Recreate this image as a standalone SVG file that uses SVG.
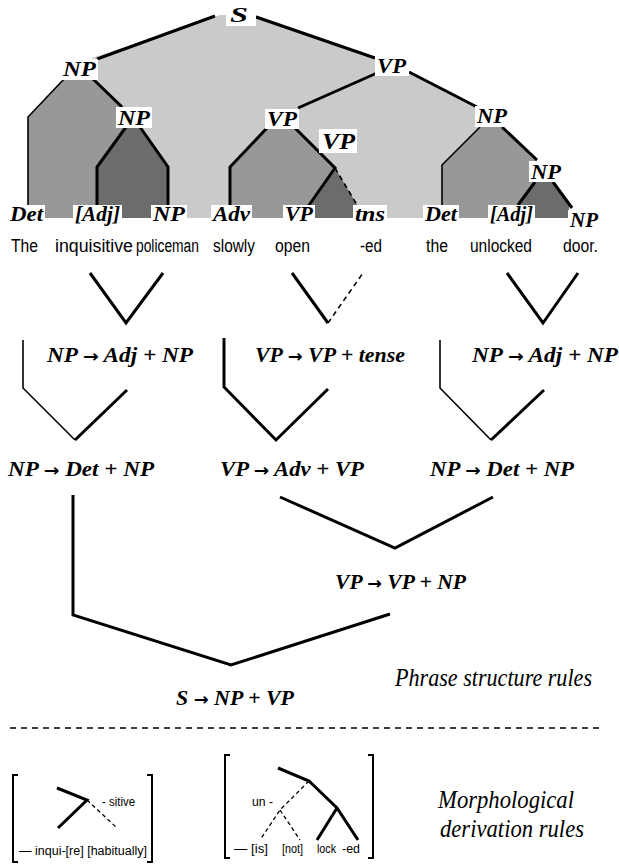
<svg xmlns="http://www.w3.org/2000/svg" width="619" height="868" viewBox="0 0 619 868">
<style>
.l1{fill:#cacaca}
.l2{fill:#989898}
.l3{fill:#6c6c6c}
.ln{fill:none;stroke:#000;stroke-width:3;stroke-linejoin:miter}
.tn{fill:none;stroke:#000;stroke-width:1.6}
.ds{fill:none;stroke:#000;stroke-width:1.6;stroke-dasharray:5 4}
.box{fill:#fff}
.cat{font-family:"Liberation Serif",serif;font-weight:bold;font-style:italic;font-size:20px}
.wd{font-family:"Liberation Sans",sans-serif;font-size:19px}
.rule{font-family:"Liberation Serif",serif;font-weight:bold;font-style:italic;font-size:21px}
.ar{font-family:"DejaVu Sans",sans-serif;font-style:normal;font-weight:bold;font-size:17px}
.cap{font-family:"Liberation Serif",serif;font-style:italic;font-size:25px}
.sm{font-family:"Liberation Sans Narrow","Liberation Sans",sans-serif;font-size:12px}
</style>
<g id="tree-fill">
<polygon class="l1" points="92,58 220,15 256,15 376,57 409,71 477,107 480,128 442,165 442,218 92,218"/>
<polygon class="l2" points="28,117 65,77 92,77 125,108 150,108 140,127 168,167 168,218 28,218"/>
<polygon class="l3" points="97,167 126,127 140,127 168,167 168,218 97,218"/>
<polygon class="l2" points="230,167 267,128 295,128 335,168 360,210 360,218 230,218"/>
<polygon class="l3" points="335,168 307,210 307,218 360,218 360,210"/>
<polygon class="l2" points="442,165 480,127 503,127 537,160 535,182 518,205 518,218 442,218"/>
<polygon class="l3" points="535,182 553,182 569,206 569,218 518,218 518,205"/>
</g>
<g id="connectors">
<path class="ln" d="M215,16 L97,59"/>
<path class="ln" d="M256,17 L375,58"/>
<path class="ln" d="M377,73 L298,108"/>
<path class="ln" d="M409,72 L477,107"/>
<path class="tn" d="M65,78 L28,117 L28,212"/>
<path class="ln" d="M92,78 L122,107"/>
<path class="ln" d="M126,127 L97,167 L97,212"/>
<path class="ln" d="M140,127 L168,167 L168,212"/>
<path class="ln" d="M267,128 L230,167 L230,212"/>
<path class="ln" d="M295,128 L335,168 L307,208"/>
<path class="ds" d="M335,168 L360,210"/>
<path class="tn" d="M480,127 L442,165 L442,212"/>
<path class="ln" d="M502,127 L537,160"/>
<path class="ln" d="M535,182 L518,205"/>
<path class="ln" d="M553,182 L572,208"/>
<path class="ln" d="M90,273 L126,323 L163,273"/>
<path class="ln" d="M292,273 L328,323"/>
<path class="ds" d="M328,323 L363,273"/>
<path class="ln" d="M507,273 L543,323 L578,273"/>
<path class="tn" d="M23,340 L23,388 L75,440"/>
<path class="ln" d="M75,440 L127,390"/>
<path class="ln" d="M224,338 L224,387 L276,440 L328,389"/>
<path class="tn" d="M440,340 L440,388 L491,440"/>
<path class="ln" d="M491,440 L544,390"/>
<path class="ln" d="M280,497 L395,548 L493,497"/>
<path class="ln" d="M73,495 L73,615 L231,665 L390,614"/>
<path class="ds" d="M10,728 L602,728" style="stroke-width:1.5;stroke-dasharray:6 5"/>
</g>
<g id="S"><rect class="box" x="226" y="4" width="30" height="22"/><text class="cat" x="230" y="22" textLength="18" lengthAdjust="spacingAndGlyphs">S</text></g>
<g id="NP1"><rect class="box" x="61" y="59" width="37" height="21"/><text class="cat" x="63" y="76" textLength="33" lengthAdjust="spacingAndGlyphs">NP</text></g>
<g id="NP2"><rect class="box" x="116" y="107" width="36" height="21"/><text class="cat" x="118" y="125" textLength="32" lengthAdjust="spacingAndGlyphs">NP</text></g>
<g id="VP1"><rect class="box" x="375" y="56" width="34" height="20"/><text class="cat" x="377" y="73" textLength="29" lengthAdjust="spacingAndGlyphs">VP</text></g>
<g id="VP2"><rect class="box" x="265" y="109" width="34" height="20"/><text class="cat" x="267" y="126" textLength="30" lengthAdjust="spacingAndGlyphs">VP</text></g>
<g id="VP3"><rect class="box" x="319" y="129" width="38" height="24"/><text class="cat" x="322" y="149" textLength="33" lengthAdjust="spacingAndGlyphs" style="font-size:23px">VP</text></g>
<g id="NP3"><rect class="box" x="475" y="106" width="34" height="21"/><text class="cat" x="477" y="123" textLength="30" lengthAdjust="spacingAndGlyphs">NP</text></g>
<g id="NP4"><rect class="box" x="529" y="161" width="34" height="21"/><text class="cat" x="531" y="179" textLength="30" lengthAdjust="spacingAndGlyphs">NP</text></g>
<g id="leaves">
<rect class="box" x="8" y="205" width="37" height="20"/><text class="cat" x="10" y="221" textLength="33" lengthAdjust="spacingAndGlyphs">Det</text>
<rect class="box" x="73" y="205" width="49" height="20"/><text class="cat" x="75" y="221" textLength="45" lengthAdjust="spacingAndGlyphs">[Adj]</text>
<rect class="box" x="151" y="205" width="36" height="20"/><text class="cat" x="153" y="221" textLength="32" lengthAdjust="spacingAndGlyphs">NP</text>
<rect class="box" x="211" y="205" width="41" height="20"/><text class="cat" x="213" y="221" textLength="37" lengthAdjust="spacingAndGlyphs">Adv</text>
<rect class="box" x="283" y="205" width="32" height="20"/><text class="cat" x="285" y="221" textLength="28" lengthAdjust="spacingAndGlyphs">VP</text>
<rect class="box" x="353" y="205" width="34" height="20"/><text class="cat" x="355" y="221" textLength="30" lengthAdjust="spacingAndGlyphs">tns</text>
<rect class="box" x="423" y="205" width="36" height="20"/><text class="cat" x="425" y="221" textLength="32" lengthAdjust="spacingAndGlyphs">Det</text>
<rect class="box" x="488" y="205" width="47" height="20"/><text class="cat" x="490" y="221" textLength="43" lengthAdjust="spacingAndGlyphs">[Adj]</text>
<rect class="box" x="568" y="210" width="32" height="20"/><text class="cat" x="570" y="227" textLength="28" lengthAdjust="spacingAndGlyphs">NP</text>
</g>
<g id="words" transform="scale(0.8,1)">
<text class="wd" x="13.75" y="252" textLength="33.75" lengthAdjust="spacingAndGlyphs">The</text>
<text class="wd" x="68.75" y="252" textLength="97.5" lengthAdjust="spacingAndGlyphs">inquisitive</text>
<text class="wd" x="170" y="252" textLength="78.75" lengthAdjust="spacingAndGlyphs">policeman</text>
<text class="wd" x="266.25" y="252" textLength="52.5" lengthAdjust="spacingAndGlyphs">slowly</text>
<text class="wd" x="343.75" y="252" textLength="43.75" lengthAdjust="spacingAndGlyphs">open</text>
<text class="wd" x="450" y="252" textLength="27.5" lengthAdjust="spacingAndGlyphs">-ed</text>
<text class="wd" x="532.5" y="252" textLength="27.5" lengthAdjust="spacingAndGlyphs">the</text>
<text class="wd" x="587.5" y="252" textLength="77.5" lengthAdjust="spacingAndGlyphs">unlocked</text>
<text class="wd" x="703.75" y="252" textLength="43.75" lengthAdjust="spacingAndGlyphs">door.</text>
</g>
<g id="rules">
<text class="rule" x="47" y="362" textLength="146" lengthAdjust="spacingAndGlyphs">NP <tspan class="ar">→</tspan> Adj + NP</text>
<text class="rule" x="255" y="362" textLength="150" lengthAdjust="spacingAndGlyphs">VP <tspan class="ar">→</tspan> VP + tense</text>
<text class="rule" x="472" y="362" textLength="146" lengthAdjust="spacingAndGlyphs">NP <tspan class="ar">→</tspan> Adj + NP</text>
<text class="rule" x="8" y="476" textLength="146" lengthAdjust="spacingAndGlyphs">NP <tspan class="ar">→</tspan> Det + NP</text>
<text class="rule" x="220" y="476" textLength="144" lengthAdjust="spacingAndGlyphs">VP <tspan class="ar">→</tspan> Adv + VP</text>
<text class="rule" x="430" y="476" textLength="144" lengthAdjust="spacingAndGlyphs">NP <tspan class="ar">→</tspan> Det + NP</text>
<text class="rule" x="335" y="589" textLength="131" lengthAdjust="spacingAndGlyphs">VP <tspan class="ar">→</tspan> VP + NP</text>
<text class="rule" x="176" y="705" textLength="118" lengthAdjust="spacingAndGlyphs">S <tspan class="ar">→</tspan> NP + VP</text>
<text class="cap" x="395" y="686" textLength="197" lengthAdjust="spacingAndGlyphs">Phrase structure rules</text>
</g>
<g id="morph1">
<path class="tn" d="M18,775 L13,775 L13,862 L18,862" style="stroke-width:2"/>
<path class="tn" d="M147,775 L152,775 L152,862 L147,862" style="stroke-width:2"/>
<path class="ln" d="M57,788 L87,800 L58,828"/>
<path class="ds" d="M87,800 L117,828" style="stroke-width:1.3;stroke-dasharray:4 3"/>
<text class="sm" x="102" y="806" textLength="33" lengthAdjust="spacingAndGlyphs">- sitive</text>
<text class="sm" x="19" y="855" textLength="128" lengthAdjust="spacingAndGlyphs">— inqui-[re] [habitually]</text>
</g>
<g id="morph2">
<path class="tn" d="M230,755 L225,755 L225,858 L230,858" style="stroke-width:2"/>
<path class="tn" d="M368,755 L373,755 L373,858 L368,858" style="stroke-width:2"/>
<path class="ln" d="M278,768 L309,781 L337,808 L358,840"/>
<path class="ln" d="M337,808 L317,840"/>
<path class="ds" d="M309,781 L280,810 L260,840 M280,810 L300,840" style="stroke-width:1.3;stroke-dasharray:4 3"/>
<text class="sm" x="252" y="806" textLength="21" lengthAdjust="spacingAndGlyphs">un -</text>
<text class="sm" x="234" y="853" textLength="34" lengthAdjust="spacingAndGlyphs">— [is]</text>
<text class="sm" x="282" y="853" textLength="21" lengthAdjust="spacingAndGlyphs">[not]</text>
<text class="sm" x="317" y="853" textLength="19" lengthAdjust="spacingAndGlyphs">lock</text>
<text class="sm" x="342" y="853" textLength="18" lengthAdjust="spacingAndGlyphs">-ed</text>
<text class="cap" x="438" y="808" textLength="136" lengthAdjust="spacingAndGlyphs">Morphological</text>
<text class="cap" x="440" y="837" textLength="144" lengthAdjust="spacingAndGlyphs">derivation rules</text>
</g>
</svg>
